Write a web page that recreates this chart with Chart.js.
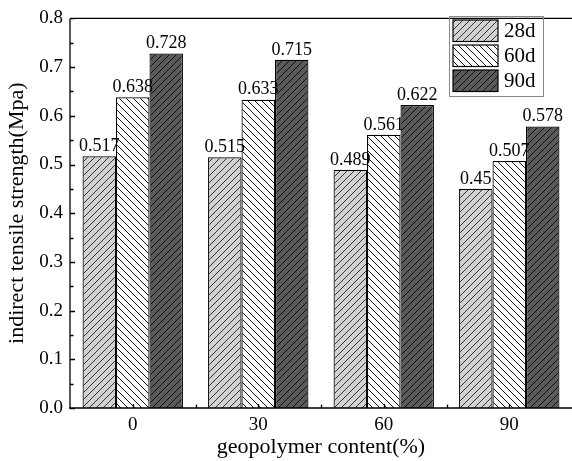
<!DOCTYPE html>
<html>
<head>
<meta charset="utf-8">
<script src="https://cdn.jsdelivr.net/npm/chart.js@4"></script>
<style>
html,body{margin:0;padding:0;background:#fff;}
#wrap{width:572px;height:461px;}
</style>
</head>
<body>
<div id="wrap"><canvas id="c" width="572" height="461"></canvas></div>
<script>
const categories = ['0', '30', '60', '90'];
const seriesLabels = ['28d', '60d', '90d'];
const values28d = [0.517, 0.515, 0.489, 0.45];
const values60d = [0.638, 0.633, 0.561, 0.507];
const values90d = [0.728, 0.715, 0.622, 0.578];
const yMin = 0, yMax = 0.8, yStep = 0.1;
const xTitle = 'geopolymer content(%)';
const yTitle = 'indirect tensile strength(Mpa)';

const FONT = '"Liberation Serif", "Times New Roman", serif';

function makeHatch(bg, dir, lineColor) {
  const s = 7;
  const c = document.createElement('canvas');
  c.width = s; c.height = s;
  const g = c.getContext('2d');
  g.fillStyle = bg; g.fillRect(0, 0, s, s);
  g.strokeStyle = lineColor; g.lineWidth = 1;
  g.beginPath();
  if (dir === '/') {
    g.moveTo(-1, s + 1); g.lineTo(s + 1, -1);
    g.moveTo(-1 - s, s + 1); g.lineTo(1, -1);
    g.moveTo(s - 1, s + 1); g.lineTo(2 * s + 1, -1);
  } else {
    g.moveTo(-1, -1); g.lineTo(s + 1, s + 1);
    g.moveTo(-1 - s, -1); g.lineTo(1, s + 1);
    g.moveTo(s - 1, -1); g.lineTo(2 * s + 1, s + 1);
  }
  g.stroke();
  return g.createPattern(c, 'repeat');
}

const fills = [
  makeHatch('#d2d2d2', '/', '#333'),
  makeHatch('#ffffff', '\\', '#111'),
  makeHatch('#5a5a5a', '/', '#111')
];

const framePlugin = {
  id: 'frame',
  afterDatasetsDraw(chart) {
    const ctx = chart.ctx, ca = chart.chartArea;
    const xs = chart.scales.x, ys = chart.scales.y;
    ctx.save();
    // data labels
    ctx.fillStyle = '#000';
    ctx.font = '18px ' + FONT;
    ctx.textAlign = 'center';
    ctx.textBaseline = 'bottom';
    chart.data.datasets.forEach((ds, di) => {
      const meta = chart.getDatasetMeta(di);
      meta.data.forEach((bar, i) => {
        ctx.fillText(String(ds.data[i]), bar.x, bar.y - 1);
      });
    });
    // frame
    ctx.strokeStyle = '#000';
    ctx.lineWidth = 1.3;
    ctx.beginPath();
    ctx.moveTo(ca.left, ca.top); ctx.lineTo(ca.right + 2, ca.top);
    ctx.moveTo(ca.left, ca.top); ctx.lineTo(ca.left, ca.bottom);
    ctx.moveTo(ca.left - 1, ca.bottom); ctx.lineTo(ca.right + 2, ca.bottom);
    // y ticks inward
    for (let k = 0; k <= Math.round((yMax - yMin) / (yStep / 2)); k++) {
      const v = yMin + k * yStep / 2;
      const y = Math.round(ys.getPixelForValue(v)) + 0.5;
      const len = (k % 2 === 0) ? 5 : 3.5;
      ctx.moveTo(ca.left, y); ctx.lineTo(ca.left + len, y);
    }
    // x ticks inward
    categories.forEach((c, i) => {
      const x = Math.round(xs.getPixelForValue(i)) + 0.5;
      ctx.moveTo(x, ca.bottom); ctx.lineTo(x, ca.bottom - 4);
      if (i > 0) {
        const xb = Math.round((xs.getPixelForValue(i) + xs.getPixelForValue(i - 1)) / 2) + 0.5;
        ctx.moveTo(xb, ca.bottom); ctx.lineTo(xb, ca.bottom - 3.5);
      }
    });
    ctx.stroke();
    // legend
    const lx = 449.5, ly = 16.5, lw = 94, lh = 80;
    ctx.strokeStyle = '#888';
    ctx.lineWidth = 1;
    ctx.strokeRect(lx, ly, lw, lh);
    ctx.font = '21px ' + FONT;
    ctx.textAlign = 'left';
    ctx.textBaseline = 'middle';
    chart.data.datasets.forEach((ds, di) => {
      const sy = 20 + di * 25;
      ctx.fillStyle = ds.backgroundColor;
      ctx.fillRect(453, sy, 45, 21.5);
      ctx.strokeStyle = '#000';
      ctx.lineWidth = 1.2;
      ctx.strokeRect(453, sy, 45, 21.5);
      ctx.fillStyle = '#000';
      ctx.fillText(ds.label, 504, sy + 11.5);
    });
    ctx.restore();
  }
};

new Chart(document.getElementById('c'), {
  type: 'bar',
  data: {
    labels: categories,
    datasets: [values28d, values60d, values90d].map((d, i) => ({
      label: seriesLabels[i],
      data: d,
      backgroundColor: fills[i],
      borderColor: '#000',
      borderWidth: 1.2,
      categoryPercentage: 0.8,
      barPercentage: 1.0
    }))
  },
  options: {
    responsive: false,
    animation: false,
    events: [],
    layout: { padding: { top: 14, right: 0, left: 0, bottom: 0 } },
    plugins: { legend: { display: false }, tooltip: { enabled: false } },
    scales: {
      x: {
        grid: { display: false, drawTicks: false },
        border: { display: false },
        ticks: { color: '#000', font: { family: FONT, size: 19 }, padding: 6 },
        title: { display: true, text: xTitle, color: '#000', font: { family: FONT, size: 22 }, padding: { top: 0, bottom: 1 } },
        afterFit(s) { s.height = 53; }
      },
      y: {
        min: yMin, max: yMax,
        grid: { display: false, drawTicks: false },
        border: { display: false },
        ticks: { stepSize: yStep, color: '#000', font: { family: FONT, size: 19 }, padding: 7,
          callback: v => Number(v).toFixed(1) },
        title: { display: true, text: yTitle, color: '#000', font: { family: FONT, size: 22 }, padding: { top: 4, bottom: 0 } },
        afterFit(s) { s.width = 70; }
      }
    }
  },
  plugins: [framePlugin]
});
</script>
</body>
</html>
